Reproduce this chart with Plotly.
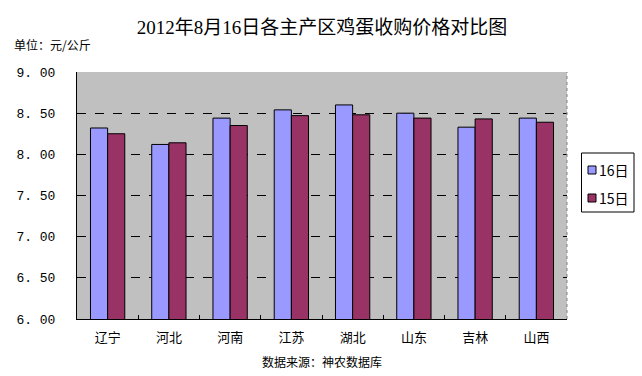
import plotly.graph_objects as go

categories = ["辽宁", "河北", "河南", "江苏", "湖北", "山东", "吉林", "山西"]
price_16 = [8.32, 8.12, 8.44, 8.54, 8.60, 8.50, 8.33, 8.44]
price_15 = [8.25, 8.14, 8.35, 8.47, 8.48, 8.44, 8.43, 8.39]
series_names = ["16日", "15日"]
series_colors = ["#9999ff", "#993366"]
y_ticks = [6.0, 6.5, 7.0, 7.5, 8.0, 8.5, 9.0]
y_tick_text = ["6. 00", "6. 50", "7. 00", "7. 50", "8. 00", "8. 50", "9. 00"]

CJK = "Noto Sans CJK SC"
W, H = 642, 376
L, R, T, B = 77, 75, 72, 57
PW, PH = W - L - R, H - T - B


def px_x(px):
    return (px - L) / PW


def px_y(py):
    return (H - B - py) / PH


fig = go.Figure()
for name, vals, col in zip(series_names, [price_16, price_15], series_colors):
    fig.add_trace(go.Bar(x=categories, y=vals, name=name,
                         marker=dict(color=col, line=dict(color="black", width=1))))

fig.update_layout(
    width=W, height=H,
    margin=dict(l=L, r=R, t=T, b=B, autoexpand=False),
    paper_bgcolor="white",
    plot_bgcolor="#c0c0c0",
    barmode="group",
    bargap=0.44,
    bargroupgap=0.0,
    font=dict(family=CJK, size=12, color="black"),
    title=dict(text="2012年8月16日各主产区鸡蛋收购价格对比图",
               x=0.5, xref="paper", xanchor="center", y=1 - 27 / H, yanchor="middle",
               font=dict(family="Liberation Serif, " + CJK, size=19, color="black")),
    showlegend=False,
)

fig.update_xaxes(
    showline=True, linecolor="black", linewidth=1,
    ticks="inside", tickson="boundaries", ticklen=4, tickcolor="black",
    showgrid=False, tickfont=dict(family=CJK, size=13),
    ticklabelstandoff=6, automargin=False,
)
fig.update_yaxes(
    range=[6.0, 9.0], tickvals=y_ticks, ticktext=y_tick_text,
    showline=True, linecolor="black", linewidth=1,
    ticks="inside", ticklen=4, tickcolor="black",
    showgrid=True, gridcolor="black", griddash="dash", gridwidth=1,
    tickfont=dict(family="Liberation Mono", size=13),
    ticklabelstandoff=18, zeroline=False, automargin=False,
)

# dotted gray right border of the plot area
fig.add_shape(type="line", xref="paper", yref="paper", x0=1, x1=1, y0=0, y1=1,
              line=dict(color="#808080", width=1, dash="dot"))

# legend box (drawn by hand to match the compact original legend)
fig.add_shape(type="rect", xref="paper", yref="paper",
              x0=px_x(581.5), x1=px_x(634), y0=px_y(212), y1=px_y(153),
              line=dict(color="black", width=1), fillcolor="white")
for i, (name, col) in enumerate(zip(series_names, series_colors)):
    cy = 170 + i * 28
    fig.add_shape(type="rect", xref="paper", yref="paper",
                  x0=px_x(588), x1=px_x(596), y0=px_y(cy + 4), y1=px_y(cy - 4),
                  line=dict(color="black", width=1), fillcolor=col)
    fig.add_annotation(text=name, xref="paper", yref="paper",
                       x=px_x(597), y=px_y(cy), xanchor="left", yanchor="middle",
                       showarrow=False, font=dict(family=CJK, size=14))

fig.add_annotation(text="单位：元/公斤", xref="paper", yref="paper",
                   x=px_x(12), y=px_y(45), xanchor="left", yanchor="middle",
                   showarrow=False, font=dict(family=CJK, size=12))
fig.add_annotation(text="数据来源：神农数据库", xref="paper", yref="paper",
                   x=0.5, y=px_y(361), xanchor="center", yanchor="middle",
                   showarrow=False, font=dict(family=CJK, size=12))

fig.write_html("out.html", config={"displayModeBar": False},
               post_script="document.body.style.margin='0';document.body.style.padding='0';")
